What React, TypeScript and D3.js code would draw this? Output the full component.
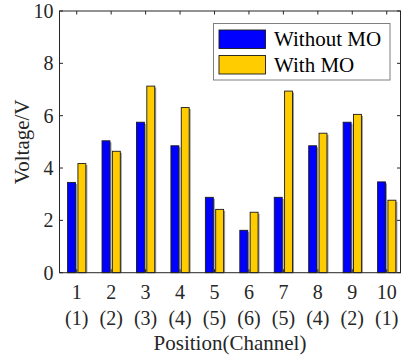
import { useEffect, useRef } from 'react';
import * as d3 from 'd3';

const positions = [1, 2, 3, 4, 5, 6, 7, 8, 9, 10];
const channels = ['(1)', '(2)', '(3)', '(4)', '(5)', '(6)', '(5)', '(4)', '(2)', '(1)'];
const withoutMO = [3.45, 5.04, 5.75, 4.85, 2.88, 1.62, 2.88, 4.85, 5.75, 3.47];
const withMO = [4.17, 4.64, 7.13, 6.31, 2.42, 2.31, 6.94, 5.33, 6.05, 2.77];
const yTicks = [0, 2, 4, 6, 8, 10];
const seriesNames = ['Without MO', 'With MO'];
const seriesColors = ['#0000ff', '#ffcc00'];

const W = 403;
const H = 363;
const FONT = '"Liberation Serif", "Times New Roman", serif';

const App = () => {
  const ref = useRef<SVGSVGElement>(null);

  useEffect(() => {
    const svg = d3.select(ref.current);
    svg.selectAll('*').remove();

    const left = 59.5;
    const right = 400.5;
    const top = 11;
    const bottom = 272.7;

    const x = d3.scaleLinear().domain([0.5, 10.4]).range([left, right]);
    const y = d3.scaleLinear().domain([0, 10]).range([bottom, top]);
    const axisColor = '#262626';

    const barW = 0.23;
    const offset = 0.15;
    const series = [withoutMO, withMO];

    series.forEach((vals, s) => {
      const dx = s === 0 ? -offset : offset;
      const g = svg.append('g');
      // faint shadow on the right side of each bar
      g.selectAll('rect.shadow')
        .data(vals)
        .enter()
        .append('rect')
        .attr('x', (d, i) => x(positions[i] + dx - barW / 2) + 1.5)
        .attr('y', (d) => y(d) + 1.5)
        .attr('width', x(barW) - x(0))
        .attr('height', (d) => y(0) - y(d) - 1.5)
        .attr('fill', '#9a9a9a');
      g.selectAll('rect.bar')
        .data(vals)
        .enter()
        .append('rect')
        .attr('x', (d, i) => x(positions[i] + dx - barW / 2))
        .attr('y', (d) => y(d))
        .attr('width', x(barW) - x(0))
        .attr('height', (d) => y(0) - y(d))
        .attr('fill', seriesColors[s])
        .attr('stroke', '#1a1a1a')
        .attr('stroke-width', 0.9);
    });

    // box
    svg
      .append('rect')
      .attr('x', left)
      .attr('y', top)
      .attr('width', right - left)
      .attr('height', bottom - top)
      .attr('fill', 'none')
      .attr('stroke', axisColor)
      .attr('stroke-width', 1);

    const tickLen = 3.5;
    const ticks = svg.append('g').attr('stroke', axisColor).attr('stroke-width', 1);
    positions.forEach((p) => {
      ticks.append('line').attr('x1', x(p)).attr('x2', x(p)).attr('y1', bottom).attr('y2', bottom - tickLen);
      ticks.append('line').attr('x1', x(p)).attr('x2', x(p)).attr('y1', top).attr('y2', top + tickLen);
    });
    yTicks.forEach((t) => {
      ticks.append('line').attr('x1', left).attr('x2', left + tickLen).attr('y1', y(t)).attr('y2', y(t));
      ticks.append('line').attr('x1', right).attr('x2', right - tickLen).attr('y1', y(t)).attr('y2', y(t));
    });

    const text = svg.append('g').attr('font-family', FONT).attr('fill', '#262626');

    text
      .selectAll('text.yt')
      .data(yTicks)
      .enter()
      .append('text')
      .attr('x', left - 6)
      .attr('y', (d) => y(d) + 7)
      .attr('text-anchor', 'end')
      .attr('font-size', 20)
      .text((d) => d);

    text
      .selectAll('text.xt')
      .data(positions)
      .enter()
      .append('text')
      .attr('x', (d) => x(d))
      .attr('y', bottom + 26)
      .attr('text-anchor', 'middle')
      .attr('font-size', 20)
      .text((d) => d);

    text
      .selectAll('text.ch')
      .data(channels)
      .enter()
      .append('text')
      .attr('x', (d, i) => x(positions[i]))
      .attr('y', bottom + 52)
      .attr('text-anchor', 'middle')
      .attr('font-size', 20)
      .text((d) => d);

    text
      .append('text')
      .attr('x', (left + right) / 2)
      .attr('y', 350)
      .attr('text-anchor', 'middle')
      .attr('font-size', 21)
      .text('Position(Channel)');

    text
      .append('text')
      .attr('transform', `translate(29, ${(top + bottom) / 2}) rotate(-90)`)
      .attr('text-anchor', 'middle')
      .attr('font-size', 21)
      .text('Voltage/V');

    // legend
    const lg = svg.append('g').attr('font-family', FONT);
    lg.append('rect')
      .attr('x', 213.5)
      .attr('y', 23.5)
      .attr('width', 176.5)
      .attr('height', 56.5)
      .attr('fill', '#fff')
      .attr('stroke', '#7f7f7f')
      .attr('stroke-width', 1);
    seriesNames.forEach((name, i) => {
      const yy = 30 + i * 25.5;
      lg.append('rect')
        .attr('x', 219)
        .attr('y', yy)
        .attr('width', 46.5)
        .attr('height', 18.5)
        .attr('fill', seriesColors[i])
        .attr('stroke', '#1a1a1a')
        .attr('stroke-width', 0.9);
      lg.append('text')
        .attr('x', 274)
        .attr('y', yy + 16)
        .attr('font-size', 21)
        .attr('fill', '#000')
        .text(name);
    });
  }, []);

  return (
    <svg
      ref={ref}
      width={W}
      height={H}
      style={{ position: 'absolute', left: 0, top: 0, background: '#fff' }}
    />
  );
};

export default App;
